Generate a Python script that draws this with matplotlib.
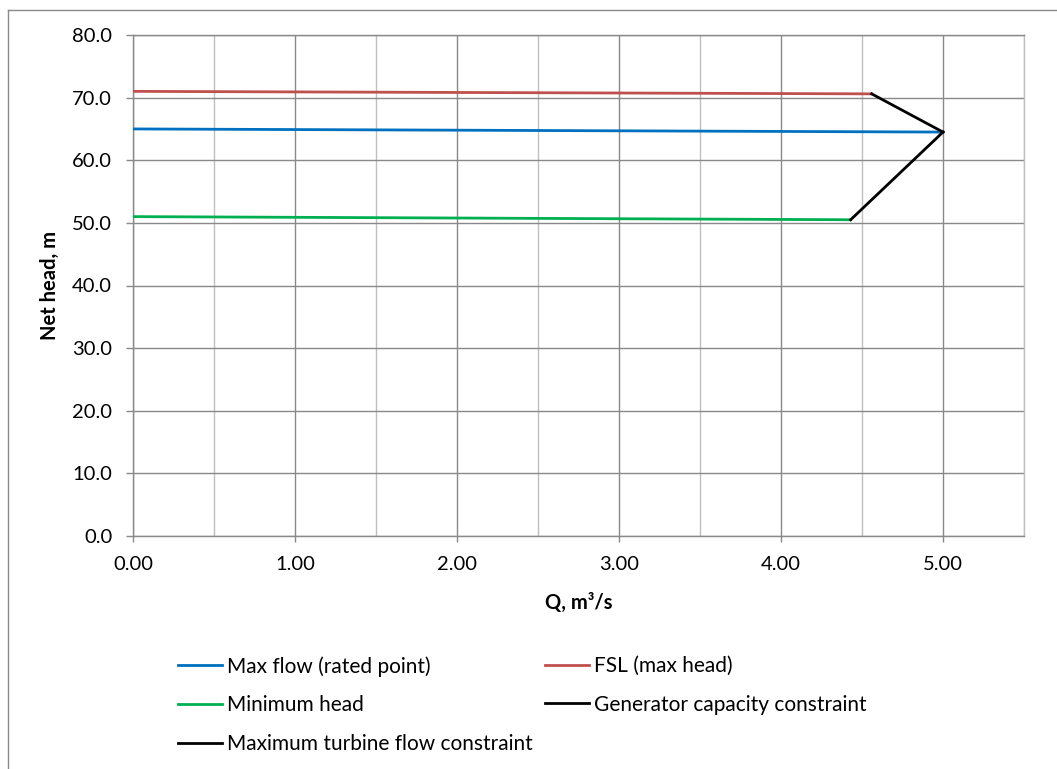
import matplotlib
matplotlib.use('Agg')
import matplotlib.pyplot as plt
from matplotlib.lines import Line2D
import numpy as np

plt.rcParams['font.family'] = ['Lato', 'DejaVu Sans']

# data (Q in m3/s, head in m)
q_rated = [0.0, 5.0]
h_rated = [65.0, 64.5]
q_fsl = [0.0, 4.56]
h_fsl = [71.0, 70.6]
q_min = [0.0, 4.43]
h_min = [51.0, 50.5]
q_gen = [4.56, 5.0]
h_gen = [70.6, 64.5]
q_turb = [4.43, 5.0]
h_turb = [50.5, 64.5]

W, H = 1057, 769
fig = plt.figure(figsize=(W / 100, H / 100), dpi=100)
ax = fig.add_axes([133 / W, 1 - 536 / H, (1024 - 133) / W, (536 - 35) / H])

dark = '#898989'
light = '#bfbfbf'

l_rated, = ax.plot(q_rated, h_rated, color='#0070C0', lw=2, label='Max flow (rated point)', zorder=3)
l_fsl, = ax.plot(q_fsl, h_fsl, color='#C0504D', lw=2, label='FSL (max head)', zorder=3)
l_min, = ax.plot(q_min, h_min, color='#00B050', lw=2, label='Minimum head', zorder=3)
l_gen, = ax.plot(q_gen, h_gen, color='black', lw=2, label='Generator capacity constraint', zorder=3)
l_turb, = ax.plot(q_turb, h_turb, color='black', lw=2, label='Maximum turbine flow constraint', zorder=3)

ax.set_xlim(0, 5.5)
ax.set_ylim(0, 80)
ax.set_xticks(np.arange(0, 5.01, 1.0))
ax.set_xticks(np.arange(0.5, 5.6, 1.0), minor=True)
ax.set_yticks(np.arange(0, 80.1, 10))
ax.set_xticklabels([f'{v:.2f}' for v in np.arange(0, 5.01, 1.0)])
ax.set_yticklabels([f'{v:.1f}' for v in np.arange(0, 80.1, 10)])

ax.grid(True, which='major', color=dark, lw=1.0, zorder=0)
ax.grid(True, which='minor', axis='x', color=light, lw=1.0, zorder=0)
ax.set_axisbelow(True)

for side in ['left', 'bottom', 'top']:
    ax.spines[side].set_color(dark)
    ax.spines[side].set_linewidth(1.0)
ax.spines['right'].set_color(light)
ax.spines['right'].set_linewidth(1.0)

ax.tick_params(axis='y', which='major', direction='out', length=5, width=1, color=dark,
               labelsize=14.5, pad=10, labelcolor='black')
ax.tick_params(axis='x', which='major', direction='out', length=4.5, width=1, color=dark,
               labelsize=14.5, pad=10, labelcolor='black')
ax.tick_params(axis='x', which='minor', length=0)

ax.set_xlabel('Q, m³/s', fontsize=14.5, fontweight='bold', va='center')
ax.set_ylabel('Net head, m', fontsize=14.5, fontweight='bold', va='center')
ax.xaxis.set_label_coords(0.5, (536 - 603) / 501)
ax.yaxis.set_label_coords((50 - 133) / 891, 0.5)

# legend laid out as two columns like the original
leg_kw = dict(frameon=False, fontsize=15, handlelength=2.1, handletextpad=0.25,
              labelspacing=0.9, borderaxespad=0, borderpad=0)
leg1 = fig.legend(handles=[l_rated, l_min, l_turb], loc='upper left',
                  bbox_to_anchor=(178 / W, 1 - 656 / H), **leg_kw)
leg2 = fig.legend(handles=[l_fsl, l_gen], loc='upper left',
                  bbox_to_anchor=(545 / W, 1 - 656 / H), **leg_kw)

# outer chart border
fig.add_artist(Line2D([8 / W, 1.0], [1 - 10 / H, 1 - 10 / H], color=dark, lw=1.0))
fig.add_artist(Line2D([8 / W, 8 / W], [1 - 10 / H, 0.0], color=dark, lw=1.0))

fig.savefig('out.png', dpi=100, facecolor='white')
